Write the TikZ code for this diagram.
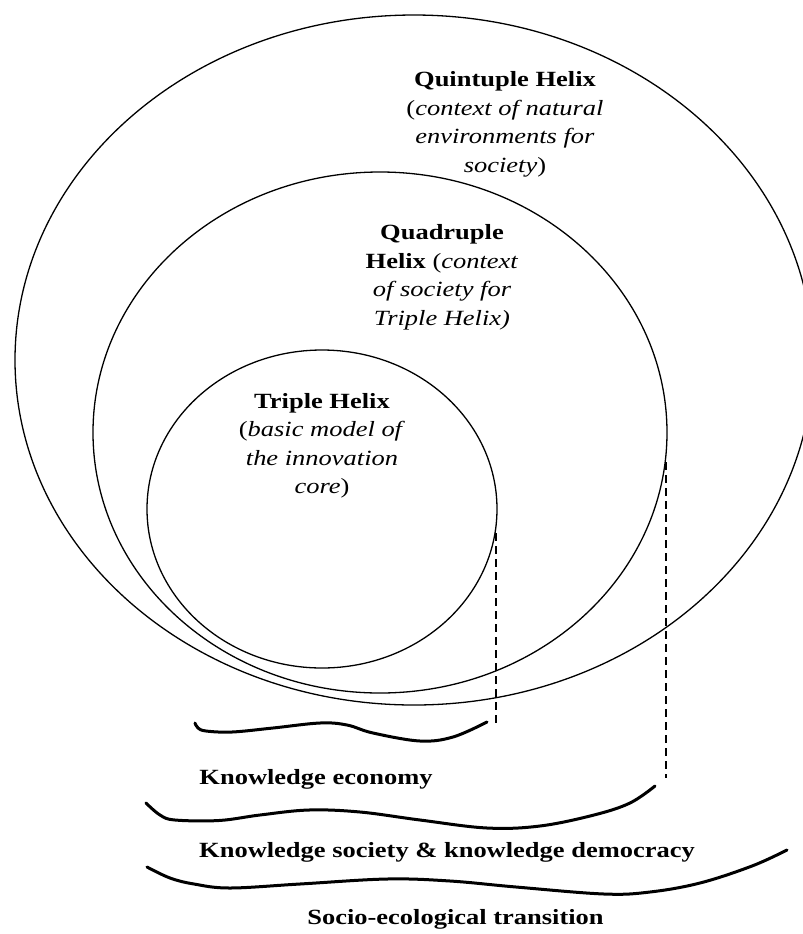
\documentclass[tikz,border=0pt]{standalone}
\usepackage{fontspec}
\setmainfont{Liberation Serif}[FakeStretch=1.22]
\begin{document}
\begin{tikzpicture}[x=0.5pt,y=-0.5pt,
  helix/.style={line width=0.65pt},
  wave/.style={line width=1.5pt, line cap=round},
  guide/.style={line width=0.55pt, dash pattern=on 4pt off 2.5pt},
  lbl/.style={inner sep=0pt, align=center, anchor=base,
    font=\fontsize{10.85}{14.25}\selectfont},
]
\useasboundingbox (0,0) rectangle (803,934);

% nested helix models
\begin{scope}
  \clip (0,0) rectangle (803,934);
  \draw[helix] (414,360) ellipse [x radius=199.5pt, y radius=172.5pt];
\end{scope}
\draw[helix] (380,432.5) ellipse [x radius=143.5pt, y radius=130.25pt];
\draw[helix] (322,509) ellipse [x radius=87.5pt, y radius=79.5pt];

% labels inside the ellipses (placed by the baseline of their last line)
\node[lbl] (quint) at (505,172)
  {\textbf{Quintuple Helix}\\(\textit{context of natural}\\\textit{environments for}\\\textit{society})};
\node[lbl] (quad) at (442,325)
  {\textbf{Quadruple}\\\textbf{Helix} (\textit{context}\\\textit{of society for}\\\textit{Triple Helix)}};
\node[lbl] (triple) at (322,493.5)
  {\textbf{Triple Helix}\\(\textit{basic model of}\\\textit{the innovation}\\\textit{core})};

% dashed guides from the ellipses down to the braces
\coordinate (t1) at (496,533);
\coordinate (b1) at (496,723);
\coordinate (t2) at (666,462);
\coordinate (b2) at (666,778);
\draw[guide] (t1) -- (b1);
\draw[guide] (t2) -- (b2);

% wavy braces
\draw[wave] plot[smooth, tension=0.6] coordinates {(195,723) (198,728) (206,731) (232,732) (273,728) (320,723) (347,725) (373,733) (420,741) (453,737) (487,722)};
\draw[wave] plot[smooth, tension=0.6] coordinates {(146,803) (160,815) (175,820) (219,820.5) (260,815) (309,810) (360,812) (420,820) (487,828) (540,826) (594,815) (630,803) (655,786)};
\draw[wave] plot[smooth, tension=0.6] coordinates {(147,867) (170,878) (194,884) (230,888) (300,884) (387,879) (450,881) (516,887) (604,894) (650,892) (700,883) (752,866) (787,850)};

% level labels
\node[lbl] (econ) at (316,784) {\textbf{Knowledge economy}};
\node[lbl] (soc) at (447,857) {\textbf{Knowledge society \& knowledge democracy}};
\node[lbl] (eco) at (455.5,924) {\textbf{Socio-ecological transition}};
\end{tikzpicture}
\end{document}
